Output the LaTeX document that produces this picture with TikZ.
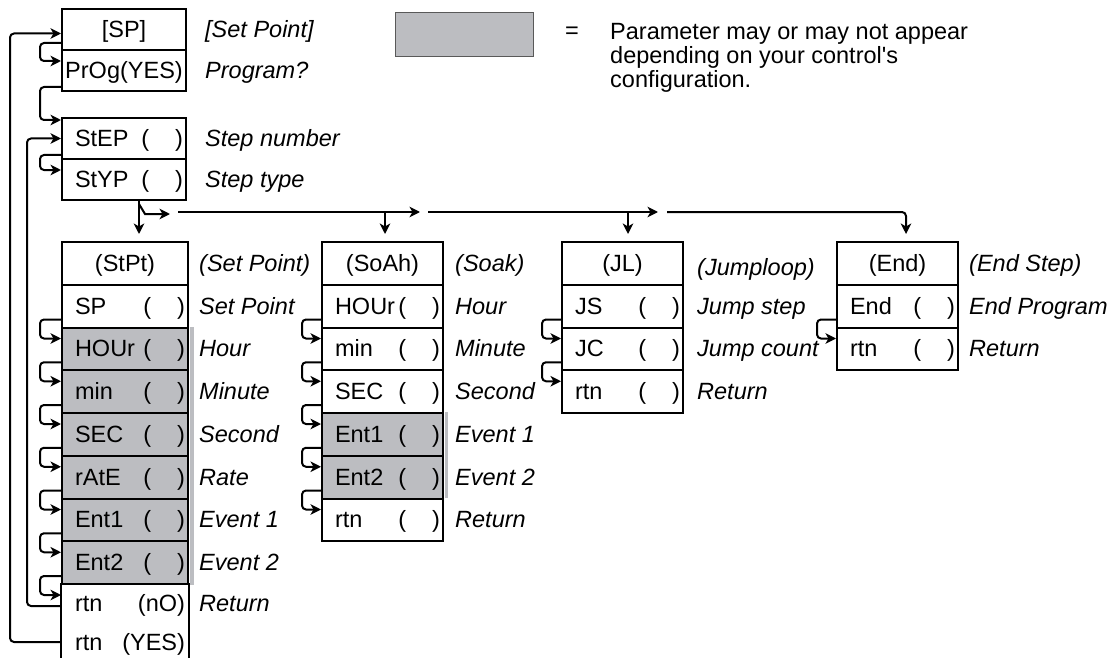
\documentclass[tikz,border=0pt]{standalone}
\usepackage{fontspec}
\setmainfont{Liberation Sans}
\usetikzlibrary{arrows.meta,calc,positioning}
\definecolor{optGray}{HTML}{BCBDC1}
\newcommand{\cellfont}{\fontsize{23.5}{24}\selectfont}
\newcommand{\cellrow}[3]{\makebox[#1][l]{\hspace*{13pt}#2\hfill#3\hspace*{3pt}}}
\newcommand{\pv}{(\hspace{26pt})}
\tikzset{
  cell/.style={draw, line width=2pt, inner sep=0pt, minimum height=42.75pt,
    text height=17pt, text depth=1pt, anchor=north west},
  desc/.style={anchor=west, inner sep=0pt, text height=17pt, text depth=1pt,
    font=\cellfont\itshape},
  link/.style={line width=2pt, rounded corners=4pt},
  tip/.style={-{Stealth[length=10.5pt,width=10.5pt,inset=3pt]}},
}

\begin{document}
\begin{tikzpicture}[x=1pt, y=-1pt, every node/.append style={font=\cellfont}]
  \useasboundingbox (0,0) rectangle (1111,658);
  % ------- legend -------
  \node[draw=black!65, fill=optGray, line width=1pt, inner sep=0pt, anchor=north west,
    minimum width=138pt, minimum height=44pt] (key) at (395,12) {};
  \node (eq) at (572,33) {=};
  \node[anchor=north west, align=left, inner sep=0pt] (keytext) at (610,23)
    {Parameter may or may not appear\\depending on your control\textquotesingle s\\configuration.};

  % ------- set point, program, step -------
  \node[cell, minimum width=124pt, minimum height=41pt] (sp) at (61,8) {[SP]};
  \node[cell, minimum width=124pt, minimum height=41pt] (prog) at (61,49) {PrOg(YES)};
  \node[cell, minimum width=124pt, minimum height=41pt] (step) at (61,117) {\cellrow{124pt}{StEP}{\pv}};
  \node[cell, minimum width=124pt, minimum height=41pt] (styp) at (61,158) {\cellrow{124pt}{StYP}{\pv}};
  \foreach \c/\txt in {sp/[Set Point], prog/Program?, step/Step number, styp/Step type}
    \node[desc] at ([xshift=18pt]\c.east) {\txt};
  \draw[link, tip] ([yshift=8pt]sp.south west) -- ++(-21pt,0) |- ([yshift=-12pt]prog.north west);
  \draw[link, tip] ([yshift=5pt]prog.south west) -- ++(-21pt,0) |- ([yshift=-3pt]step.north west);
  \draw[link, tip] ([yshift=5pt]step.south west) -- ++(-21pt,0) |- ([yshift=-12pt]styp.north west);

  % ------- set point step -------
  \node[cell, minimum width=126pt] (stpt0) at (61,241) {(StPt)};
  \node[desc] at ([xshift=10pt]stpt0.east) {(Set Point)};
  \foreach \nm/\txt/\shade [count=\i] in {SP/Set Point/white, HOUr/Hour/optGray, min/Minute/optGray,
      SEC/Second/optGray, rAtE/Rate/optGray, Ent1/Event 1/optGray, Ent2/Event 2/optGray} {
    \node[cell, fill=\shade, minimum width=126pt] (stpt\i) at (61,{241+\i*42.75}) {\cellrow{126pt}{\nm}{\pv}};
    \fill[\shade] ([xshift=1pt]stpt\i.north east) rectangle ([xshift=5pt]stpt\i.south east);
    \node[desc] at ([xshift=10pt]stpt\i.east) {\txt};
  }
  \node[cell, draw=none, minimum width=126pt, minimum height=38pt] (stpt8) at (61,583) {\cellrow{126pt}{rtn}{(nO)}};
  \node[cell, draw=none, minimum width=126pt, minimum height=40pt] (stpt9) at (61,621) {\cellrow{126pt}{rtn}{(YES)}};
  \draw[line width=2pt] (stpt8.north west) -- (stpt9.south west);
  \draw[line width=2pt] (stpt8.north east) -- (stpt9.south east);
  \node[desc] at ([xshift=10pt]stpt8.east) {Return};
  \foreach \a/\b in {1/2,2/3,3/4,4/5,5/6,6/7,7/8}
    \draw[link, tip] ([yshift=9pt]stpt\a.south west) -- ++(-21pt,0) |- ([yshift=-12pt]stpt\b.north west);
  % return loops
  \draw[link, tip] ([yshift=-3pt]stpt8.west) -- ++(-34pt,0) |- (step.west);
  \draw[link, tip] (stpt9.west) -- ++(-51pt,0) |- ([yshift=-4pt]sp.west);

  % ------- soak step -------
  \node[cell, minimum width=121pt] (soah0) at (321,241) {(SoAh)};
  \node[desc] at ([xshift=11pt]soah0.east) {(Soak)};
  \foreach \nm/\txt/\shade [count=\i] in {HOUr/Hour/white, min/Minute/white, SEC/Second/white,
      Ent1/Event 1/optGray, Ent2/Event 2/optGray, rtn/Return/white} {
    \node[cell, fill=\shade, minimum width=121pt] (soah\i) at (321,{241+\i*42.75}) {\cellrow{121pt}{\nm}{\pv}};
    \fill[\shade] ([xshift=1pt]soah\i.north east) rectangle ([xshift=4pt]soah\i.south east);
    \node[desc] at ([xshift=11pt]soah\i.east) {\txt};
  }
  \foreach \a/\b in {1/2,2/3,3/4,4/5,5/6}
    \draw[link, tip] ([yshift=9pt]soah\a.south west) -- ++(-19pt,0) |- ([yshift=-12pt]soah\b.north west);

  % ------- jumploop step -------
  \node[cell, minimum width=121pt] (jl0) at (561,241) {(JL)};
  \node[desc] at ([xshift=13pt, yshift=-4pt]jl0.east) {(Jumploop)};
  \foreach \nm/\txt [count=\i] in {JS/Jump step, JC/Jump count, rtn/Return} {
    \node[cell, minimum width=121pt] (jl\i) at (561,{241+\i*42.75}) {\cellrow{121pt}{\nm}{\pv}};
    \node[desc] at ([xshift=13pt]jl\i.east) {\txt};
  }
  \foreach \a/\b in {1/2,2/3}
    \draw[link, tip] ([yshift=9pt]jl\a.south west) -- ++(-19pt,0) |- ([yshift=-12pt]jl\b.north west);

  % ------- end step -------
  \node[cell, minimum width=121pt] (end0) at (836,241) {(End)};
  \node[desc] at ([xshift=10pt]end0.east) {(End Step)};
  \foreach \nm/\txt [count=\i] in {End/End Program, rtn/Return} {
    \node[cell, minimum width=121pt] (end\i) at (836,{241+\i*42.75}) {\cellrow{121pt}{\nm}{\pv}};
    \node[desc] at ([xshift=10pt]end\i.east) {\txt};
  }
  \draw[link, tip] ([yshift=9pt]end1.south west) -- ++(-19pt,0) |- ([yshift=-12pt]end2.north west);

  % ------- step type selection -------
  \coordinate (fork) at ($(styp.south west)+(78,0)$);
  \draw[link, tip] (fork) -- ($(stpt0.north west)+(78,-7)$);
  \draw[line width=2pt, tip] ($(fork)+(0,3)$) -- ++(6pt,-10pt) -- ++(25pt,0);
  \foreach \col/\dx/\from/\to in {soah0/64/178/420, jl0/67/428/658} {
    \draw[link, tip] (\from,212) -- (\to,212);
    \draw[link, tip] ($(\col.north west)+(\dx,-29)$) -- ($(\col.north west)+(\dx,-7)$);
  }
  \draw[link, tip] (667,212) -| ($(end0.north west)+(70,-7)$);
\end{tikzpicture}
\end{document}
